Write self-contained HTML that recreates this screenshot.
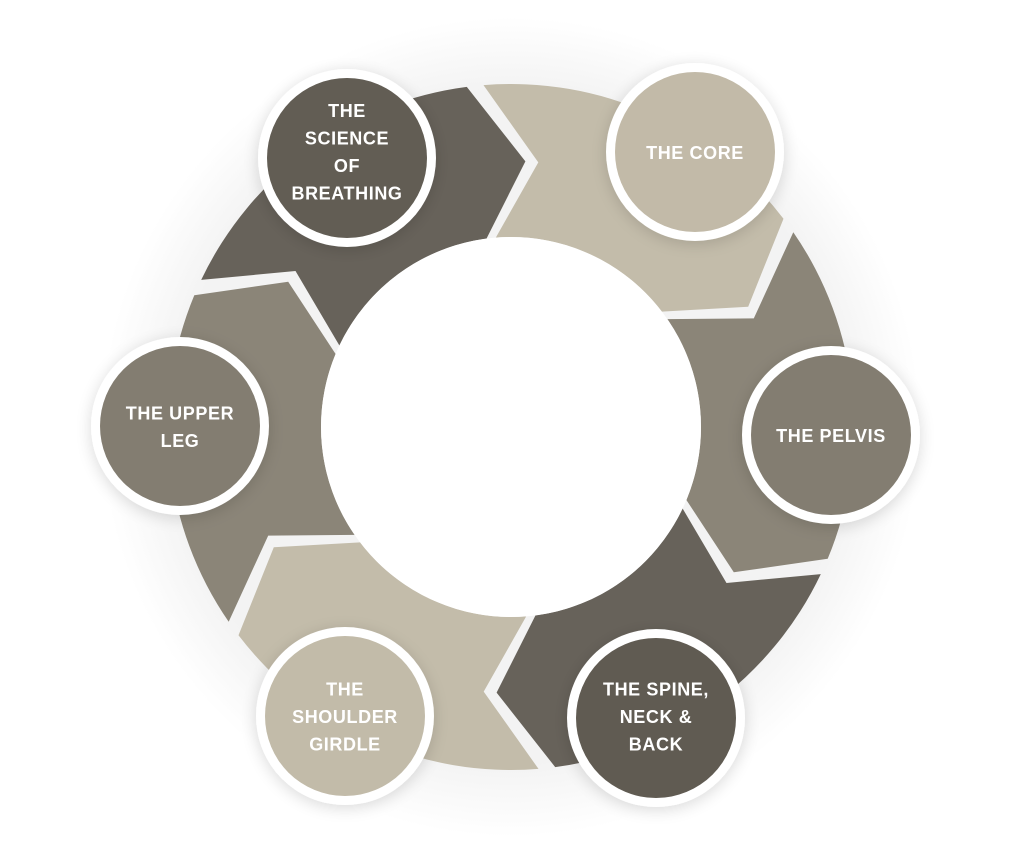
<!DOCTYPE html>
<html><head><meta charset="utf-8">
<style>
html,body{margin:0;padding:0;background:#fff;}
body{width:1024px;height:847px;overflow:hidden;}
svg{display:block;}
text{font-family:"Liberation Sans",sans-serif;font-weight:bold;font-size:18px;fill:#fff;letter-spacing:0.6px;text-anchor:middle;dominant-baseline:central;}
</style></head>
<body>
<svg id="s" width="1024" height="847" viewBox="0 0 1024 847" xmlns="http://www.w3.org/2000/svg">
<defs>
<filter id="sh" x="-30%" y="-30%" width="160%" height="160%">
<feGaussianBlur in="SourceAlpha" stdDeviation="8"/>
<feOffset dx="0" dy="3"/>
<feComponentTransfer><feFuncA type="linear" slope="0.15"/></feComponentTransfer>
<feMerge><feMergeNode/><feMergeNode in="SourceGraphic"/></feMerge>
</filter>
<radialGradient id="halo" cx="511" cy="427" r="410" gradientUnits="userSpaceOnUse">
<stop offset="0.82" stop-color="#f3f3f3"/><stop offset="1" stop-color="#fff"/>
</radialGradient>
</defs>
<circle cx="511" cy="427" r="410" fill="url(#halo)"/>
<g id="segs"></g>
<circle cx="511" cy="427" r="190" fill="#fff"/>
<g id="circ"></g>
</svg>
<script>
var cx=511,cy=427,Ro=343,Rm=266,Ri=190,g=1.4;
function P(r,a){a=a*Math.PI/180;return (cx+r*Math.sin(a)).toFixed(1)+","+(cy-r*Math.cos(a)).toFixed(1);}
var cols=["#c3bcaa","#8b8578","#67625a","#c3bcaa","#8b8578","#67625a"];
var h="";
for(var i=0;i<6;i++){var s=i*60,e=s+60;
h+='<path fill="'+cols[i]+'" d="M'+P(Ro,s-6+g)+' A'+Ro+' '+Ro+' 0 0 1 '+P(Ro,e-6-g)+' L'+P(Rm,e+4.5-g)+' L'+P(Ri,e-6-g)+' A'+Ri+' '+Ri+' 0 0 0 '+P(Ri,s-6+g)+' L'+P(Rm,s+4.5+g)+' Z"/>';}
document.getElementById("segs").innerHTML=h;
var C=[[347,158,"#625d54",["THE","SCIENCE","OF","BREATHING"],151],
[695,152,"#c2baa8",["THE CORE"],152],
[831,435,"#837d71",["THE PELVIS"],435],
[656,718,"#605b52",["THE SPINE,","NECK &amp;","BACK"],716],
[345,716,"#c2bba9",["THE","SHOULDER","GIRDLE"],716],
[180,426,"#837d71",["THE UPPER","LEG"],426]];
var t="";
C.forEach(function(c){
t+='<circle cx="'+c[0]+'" cy="'+c[1]+'" r="89" fill="#fff" filter="url(#sh)"/><circle cx="'+c[0]+'" cy="'+c[1]+'" r="80" fill="'+c[2]+'"/>';
var n=c[3].length,p=27.5;
c[3].forEach(function(l,k){t+='<text x="'+c[0]+'" y="'+(c[4]+(k-(n-1)/2)*p+1)+'">'+l+'</text>';});
});
document.getElementById("circ").innerHTML=t;
</script>
</body></html>
